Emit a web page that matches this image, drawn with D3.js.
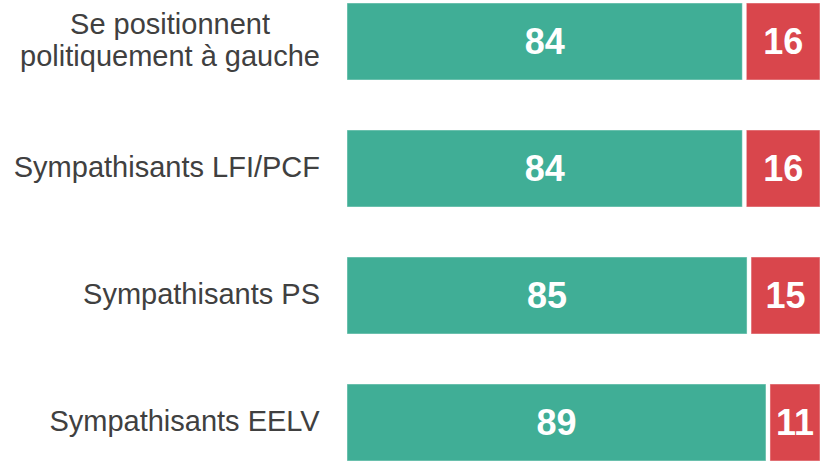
<!DOCTYPE html>
<html><head><meta charset="utf-8">
<script src="https://cdn.jsdelivr.net/npm/d3@7"></script>
<style>html,body{margin:0;padding:0;background:#fff;}svg{display:block;}</style>
</head><body>
<script>
const categories = [["Se positionnent","politiquement à gauche"],["Sympathisants LFI/PCF"],["Sympathisants PS"],["Sympathisants EELV"]];
const yesValues = [84, 84, 85, 89];
const noValues = [16, 16, 15, 11];
const colors = {yes:"#40ae96", no:"#d9464c"};

const W = 820, H = 462;
const svg = d3.select("body").append("svg").attr("width", W).attr("height", H);
const keys = categories.map((c,i)=>i);
const x = d3.scaleLinear().domain([0,100]).range([347,820]);
const y = d3.scaleBand().domain(keys).range([3,461]).paddingInner(50/127).paddingOuter(0);
const gap = 2;

const rows = svg.selectAll("g.row").data(keys).enter().append("g").attr("class","row");
rows.append("rect")
  .attr("x", i=>x(0)).attr("y", i=>y(i))
  .attr("width", i=>x(yesValues[i])-x(0)-gap).attr("height", y.bandwidth())
  .attr("fill", colors.yes).attr("stroke","rgba(255,255,255,0.45)").attr("stroke-width",1);
rows.append("rect")
  .attr("x", i=>x(yesValues[i])+gap).attr("y", i=>y(i))
  .attr("width", i=>x(yesValues[i]+noValues[i])-x(yesValues[i])-gap).attr("height", y.bandwidth())
  .attr("fill", colors.no).attr("stroke","rgba(255,255,255,0.45)").attr("stroke-width",1);

const numFont = "bold 36px 'Liberation Sans', Arial, sans-serif";
rows.append("text")
  .attr("x", i=>(x(0)+x(yesValues[i])-gap)/2).attr("y", i=>y(i)+y.bandwidth()/2)
  .attr("dy","0.36em").attr("text-anchor","middle").attr("fill","#fff")
  .style("font", numFont).text(i=>yesValues[i]);
rows.append("text")
  .attr("x", i=>(x(yesValues[i])+gap+x(yesValues[i]+noValues[i]))/2).attr("y", i=>y(i)+y.bandwidth()/2)
  .attr("dy","0.36em").attr("text-anchor","middle").attr("fill","#fff")
  .style("font", numFont).text(i=>noValues[i]);

const labFont = "29px 'Liberation Sans', Arial, sans-serif";
const lineH = 32;
rows.each(function(i){
  const g = d3.select(this);
  const lines = categories[i];
  const t = g.append("text").attr("text-anchor","middle").attr("fill","#404040").style("font", labFont);
  const cy = y(i)+y.bandwidth()/2;
  lines.forEach((l,k)=>{
    t.append("tspan").attr("x", 0).attr("y", cy + (k-(lines.length-1)/2)*lineH).attr("dy","0.29em").text(l);
  });
  const w = t.node().getBBox().width;
  t.selectAll("tspan").attr("x", 320 - w/2);
});
</script>
</body></html>
